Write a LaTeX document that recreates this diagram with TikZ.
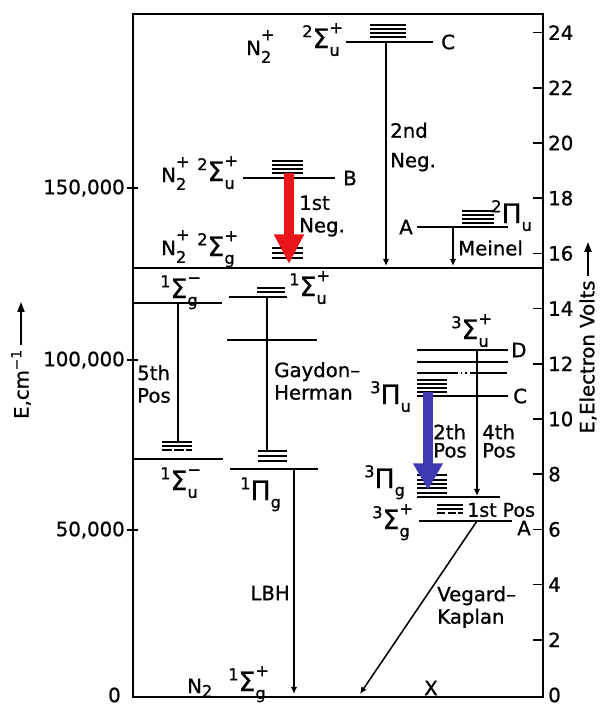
\documentclass[tikz,border=0pt]{standalone}
\usepackage{fontspec}
\setmainfont{DejaVu Sans}[BoldFont={DejaVu Sans},BoldFeatures={FakeBold=0.9}]
\usetikzlibrary{arrows.meta}

\definecolor{negred}{RGB}{232,22,24}
\definecolor{posblue}{RGB}{62,58,178}

\newcommand{\labfont}{\fontsize{14}{16}\selectfont\bfseries}
\newcommand{\scrfont}{\fontsize{11.5}{12}\selectfont}
\newcommand{\symfnt}{\fontsize{19}{20}\selectfont}
% stacked right super/subscript, left superscript, N2+
\newcommand{\stackss}[2]{\rlap{\raisebox{0.75em}{\scrfont#1}}\raisebox{-0.4em}{\scrfont#2}}
\newcommand{\mterm}[4]{\raisebox{0.55em}{\scrfont#1}{\symfnt#2}\stackss{#3}{#4}}
\newcommand{\nion}{N\stackss{+}{2}}

\tikzset{
  frame/.style={line width=1.8pt},
  scaletick/.style={line width=1.2pt},
  lvl/.style={line width=1.3pt},
  vib/.style={line width=0.9pt},
  trans/.style={line width=1.1pt},
  emis/.style={trans,-{Latex[length=5pt,width=4.5pt]}},
  txt/.style={font=\labfont,inner sep=0pt},
  negarrow/.style={negred,line width=7pt,-{Triangle[length=21pt,width=20pt]}},
  posarrow/.style={posblue,line width=7pt,-{Triangle[length=19pt,width=20pt]}},
  axarr/.style={line width=1.2pt,-{Triangle[length=7pt,width=5pt]},shorten <=3pt}
}

\begin{document}
\begin{tikzpicture}[x=0.025cm,y=-0.025cm]
\useasboundingbox (0,0) rectangle (600,705);

% frame, ion above / neutral below
\draw[frame] (133,14) rectangle (543,697);
\draw[frame] (133,268) -- (543,268);

% scales
\foreach \e in {2,4,...,24}
  \draw[scaletick] (533,{695-27.6*\e}) -- (543,{695-27.6*\e});
\foreach \e in {0,2,...,24}
  \node[txt,anchor=west] (ev\e) at (548,{695-27.6*\e}) {\e};
\foreach \y/\v/\n in {188/{150,000}/k150,360/{100,000}/k100,530/{50,000}/k50}{
  \draw[scaletick] (127,\y) -- (138,\y);
  \node[txt,anchor=east] (\n) at (125,\y) {\v};
}
\node[txt,anchor=east] (k0) at (121,695) {0};

\node[txt,rotate=90] (ecm) at (21,384) {E,cm\textsuperscript{−1}};
\coordinate (ecmtip) at (21,302);
\draw[axarr] (ecm.east) -- (ecmtip);
\node[txt,rotate=90] (eev) at (588,357) {E,Electron Volts};
\coordinate (eevtip) at (588,242);
\draw[axarr] (eev.east) -- (eevtip);

% N2+ C
\foreach \y in {25,29,33,37}
  \draw[vib] (370,\y) -- (406,\y);
\draw[lvl] (346,42) -- (433,42);
\node[txt,anchor=west] (lC) at (441,42) {C};
\node[txt,anchor=base west] (nC) at (246,55) {\nion};
\node[txt,anchor=base west] (tC) at (302,48) {\mterm{2}{Σ}{+}{u}};

% N2+ B
\foreach \y in {161,165,169,173}
  \draw[vib] (272,\y) -- (303,\y);
\draw[lvl] (243,178) -- (335,178);
\node[txt,anchor=west] (lB) at (343,178) {B};
\node[txt,anchor=base west] (nB) at (161,182) {\nion};
\node[txt,anchor=base west] (tB) at (197,181) {\mterm{2}{Σ}{+}{u}};

% N2+ X
\foreach \y in {248,253,258}
  \draw[vib] (272,\y) -- (303,\y);
\node[txt,anchor=base west] (nX) at (161,255) {\nion};
\node[txt,anchor=base west] (tX) at (197,256) {\mterm{2}{Σ}{+}{g}};

% N2+ A
\foreach \y in {211,215,219,223}
  \draw[vib] (462,\y) -- (494,\y);
\draw[lvl] (417,227) -- (508,227);
\node[txt,anchor=east] (lA) at (413,227) {A};
\node[txt,anchor=base west] (tA) at (491,223) {\mterm{2}{Π}{}{u}};

% singlets
\draw[lvl] (133,303) -- (222,303);
\node[txt,anchor=base west] (tSgm) at (160,298) {\mterm{1}{Σ}{−}{g}};
\foreach \y in {442,446}
  \draw[vib] (162,\y) -- (192,\y);
\draw[vib,dash pattern=on 7pt off 1.5pt] (162,450) -- (192,450);
\draw[lvl] (133,459) -- (223,459);
\node[txt,anchor=base west] (tSum) at (160,490) {\mterm{1}{Σ}{−}{u}};

\foreach \y in {288,292}
  \draw[vib] (257,\y) -- (285,\y);
\draw[lvl] (229,297) -- (287,297);
\node[txt,anchor=base west] (tSup) at (289,296) {\mterm{1}{Σ}{+}{u}};
\draw[lvl] (227,340) -- (317,340);
\foreach \y in {451,456,461}
  \draw[vib] (258,\y) -- (287,\y);
\draw[lvl] (230,469) -- (318,469);
\node[txt,anchor=base west] (tPg) at (240,500) {\mterm{1}{Π}{}{g}};

% ground state
\node[txt,anchor=base west] (nN2) at (187,693) {N\raisebox{-0.2em}{\scrfont 2}};
\node[txt,anchor=base west] (tXg) at (228,691) {\mterm{1}{Σ}{+}{g}};
\node[txt] (lX) at (431,688) {X};

% triplets
\node[txt,anchor=base west] (tSu3) at (451,339) {\mterm{3}{Σ}{+}{u}};
\draw[lvl] (417,350) -- (508,350);
\node[txt,anchor=west] (lD) at (511,350) {D};
\draw[lvl] (417,362) -- (508,362);
\draw[lvl] (417,373) -- (456,373);
\draw[lvl,dotted] (456,373) -- (470,373);
\draw[lvl] (470,373) -- (507,373);
\foreach \y in {380,384,388,392}
  \draw[vib] (417,\y) -- (447,\y);
\draw[lvl] (417,396) -- (508,396);
\node[txt,anchor=west] (lC3) at (513,396) {C};
\node[txt,anchor=base west] (tPu3) at (370,404) {\mterm{3}{Π}{}{u}};

\foreach \y in {475,480,484,488}
  \draw[vib] (417,\y) -- (447,\y);
\draw[lvl,line width=2pt] (417,493) -- (447,493);
\draw[lvl] (417,497) -- (500,497);
\node[txt,anchor=base west] (tPg3) at (364,488) {\mterm{3}{Π}{}{g}};

\foreach \y in {505,509}
  \draw[vib] (437,\y) -- (463,\y);
\draw[vib,dash pattern=on 6pt off 1.5pt] (437,513) -- (463,513);
\draw[lvl] (419,521) -- (512,521);
\node[txt] (lA3) at (524,528) {A};
\node[txt,anchor=base west] (tSg3) at (372,529) {\mterm{3}{Σ}{+}{g}};

% transitions
\coordinate (c2n) at (386,42);
\coordinate (x2n) at (386,266);
\draw[emis] (c2n) -- (x2n);
\node[txt,anchor=west,align=left] (n2nd) at (390,147) {2nd\\[5pt]Neg.};

\coordinate (b1n) at (289,173);
\coordinate (x1n) at (289,264);
\draw[negarrow] (b1n) -- (x1n);
\node[txt,anchor=west,align=left] (n1st) at (299,216) {1st\\Neg.};

\coordinate (a1m) at (453,227);
\coordinate (x1m) at (453,266);
\draw[emis] (a1m) -- (x1m);
\node[txt,anchor=west] (nMei) at (458,248) {Meinel};

\coordinate (sg1) at (178,303);
\coordinate (su1) at (178,442);
\draw[trans] (sg1) -- (su1);
\node[txt,anchor=west,align=left] (n5th) at (137,384) {5th\\Pos};

\coordinate (su2) at (267,297);
\coordinate (pg1) at (267,451);
\draw[trans] (su2) -- (pg1);
\node[txt,anchor=west,align=left] (nGH) at (274,381) {Gaydon–\\Herman};

\coordinate (pg2) at (294,469);
\coordinate (xg1) at (294,694);
\draw[emis] (pg2) -- (xg1);
\node[txt,anchor=east] (nLBH) at (290,593) {LBH};

\coordinate (as1) at (477,521);
\coordinate (xg2) at (360,694);
\draw[emis] (as1) -- (xg2);
\node[txt,anchor=west,align=left] (nVK) at (437,607) {Vegard–\\Kaplan};

\coordinate (su3) at (477,350);
\coordinate (pg3) at (477,496);
\draw[emis] (su3) -- (pg3);
\node[txt,anchor=west,align=left] (n4th) at (482,441) {4th\\[-3pt]Pos};

\coordinate (pu3) at (428,392);
\coordinate (pg4) at (428,490);
\draw[posarrow] (pu3) -- (pg4);
\node[txt,anchor=west,align=left] (n2th) at (433,441) {2th\\[-3pt]Pos};

\node[txt,anchor=west,font=\fontsize{13.5}{15}\selectfont\bfseries] (n1pos) at (467,510) {1st Pos};
\end{tikzpicture}
\end{document}
